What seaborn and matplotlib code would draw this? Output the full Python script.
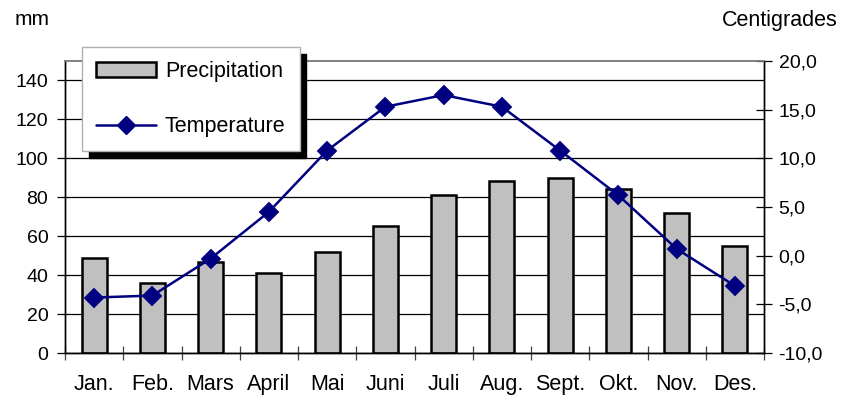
import numpy as np
import pandas as pd
import matplotlib
matplotlib.use("Agg")
import matplotlib.pyplot as plt
import seaborn as sns
from matplotlib.patches import Patch
from matplotlib.lines import Line2D
from matplotlib.ticker import FuncFormatter, FixedLocator, NullFormatter

# Monthly climate normals
months = ["Jan.", "Feb.", "Mars", "April", "Mai", "Juni",
          "Juli", "Aug.", "Sept.", "Okt.", "Nov.", "Des."]
precipitation = [49, 36, 47, 41, 52, 65, 81, 88.5, 90, 84, 72, 55]
temperature = [-4.3, -4.1, -0.3, 4.5, 10.8, 15.3, 16.5, 15.3, 10.8, 6.2, 0.7, -3.1]

mm_ticks = [0, 20, 40, 60, 80, 100, 120, 140]
deg_ticks = [-10, -5, 0, 5, 10, 15, 20]

sns.set_style("white")
plt.rcParams["font.family"] = ["Liberation Sans", "DejaVu Sans"]
plt.rcParams["text.color"] = "black"
plt.rcParams["xtick.color"] = "black"
plt.rcParams["ytick.color"] = "black"
plt.rcParams["xtick.labelcolor"] = "black"
plt.rcParams["ytick.labelcolor"] = "black"

df = pd.DataFrame({"month": months,
                   "precipitation": precipitation,
                   "temperature": temperature})

BAR_GRAY = "#c0c0c0"
NAVY = "#000080"
MARKER_SIZE = 9.5

fig = plt.figure(figsize=(8.42, 4.0), dpi=100)
ax = fig.add_axes([65 / 842, 47 / 400, 699 / 842, 292 / 400])

sns.barplot(data=df, x="month", y="precipitation", order=months, ax=ax,
            color=BAR_GRAY, saturation=1, edgecolor="black",
            linewidth=1.8, width=0.43, errorbar=None)

ax2 = ax.twinx()
sns.pointplot(data=df, x="month", y="temperature", order=months, ax=ax2,
              color=NAVY, markers="D", linestyles="-", errorbar=None,
              markersize=MARKER_SIZE, linewidth=1.8)

# Axis ranges
ax.set_xlim(-0.5, len(months) - 0.5)
ax.set_ylim(0, 150)
ax2.set_ylim(-10, 20)

# Category ticks between the bars, month names centred under them
ax.xaxis.set_major_locator(FixedLocator(np.arange(len(months) + 1) - 0.5))
ax.xaxis.set_major_formatter(NullFormatter())
ax.xaxis.set_minor_locator(FixedLocator(np.arange(len(months))))
ax.xaxis.set_minor_formatter(FuncFormatter(lambda v, _: months[int(round(v))]))
ax.tick_params(axis="x", which="major", direction="inout", length=10,
               width=0.9, color="#404040", bottom=True)
ax.tick_params(axis="x", which="minor", length=0, pad=15, labelsize=15.5,
               bottom=True, labelcolor="black")

ax.set_yticks(mm_ticks)
ax.tick_params(axis="y", direction="out", length=6, width=0.9, pad=6,
               labelsize=14, left=True, labelcolor="black")
ax2.set_yticks(deg_ticks)
ax2.yaxis.set_major_formatter(FuncFormatter(lambda v, _: f"{v:.1f}".replace(".", ",")))
ax2.tick_params(axis="y", direction="inout", length=11, width=0.9, pad=5,
                labelsize=14, right=True, labelcolor="black")

ax.set_xlabel("")
ax.set_ylabel("")
ax2.set_ylabel("")

# Horizontal grid for the precipitation scale
ax.yaxis.grid(True, color="black", linewidth=0.9)
ax.xaxis.grid(False)
ax2.grid(False)
ax.set_axisbelow(True)

for a in (ax, ax2):
    for side in ("left", "right", "bottom"):
        a.spines[side].set_color("black")
        a.spines[side].set_linewidth(1.0)
    a.spines["top"].set_color("#808080")
    a.spines["top"].set_linewidth(1.2)

# Axis titles
fig.text(15 / 842, 1 - 25 / 400, "mm", fontsize=15, ha="left", va="baseline",
         color="black")
fig.text(838 / 842, 1 - 26 / 400, "Centigrades", fontsize=15.5,
         ha="right", va="baseline", color="black")

# Legend with a solid drop shadow
handles = [
    Patch(facecolor=BAR_GRAY, edgecolor="black", linewidth=1.8,
          label="Precipitation"),
    Line2D([], [], color=NAVY, marker="D", markersize=MARKER_SIZE,
           linewidth=1.8, label="Temperature"),
]
leg = fig.legend(handles=handles, loc="upper left",
                 bbox_to_anchor=(82 / 842, 1 - 47 / 400), borderaxespad=0,
                 frameon=True, fancybox=False, framealpha=1,
                 facecolor="white", edgecolor="#b0b0b0",
                 shadow={"ox": 5, "oy": -5, "facecolor": "black",
                         "edgecolor": "black", "alpha": 1},
                 fontsize=15.5, handlelength=2.8, handletextpad=0.4,
                 labelspacing=1.6, borderpad=0.65)
for t in leg.get_texts():
    t.set_color("black")

fig.savefig("out.png", dpi=100)
